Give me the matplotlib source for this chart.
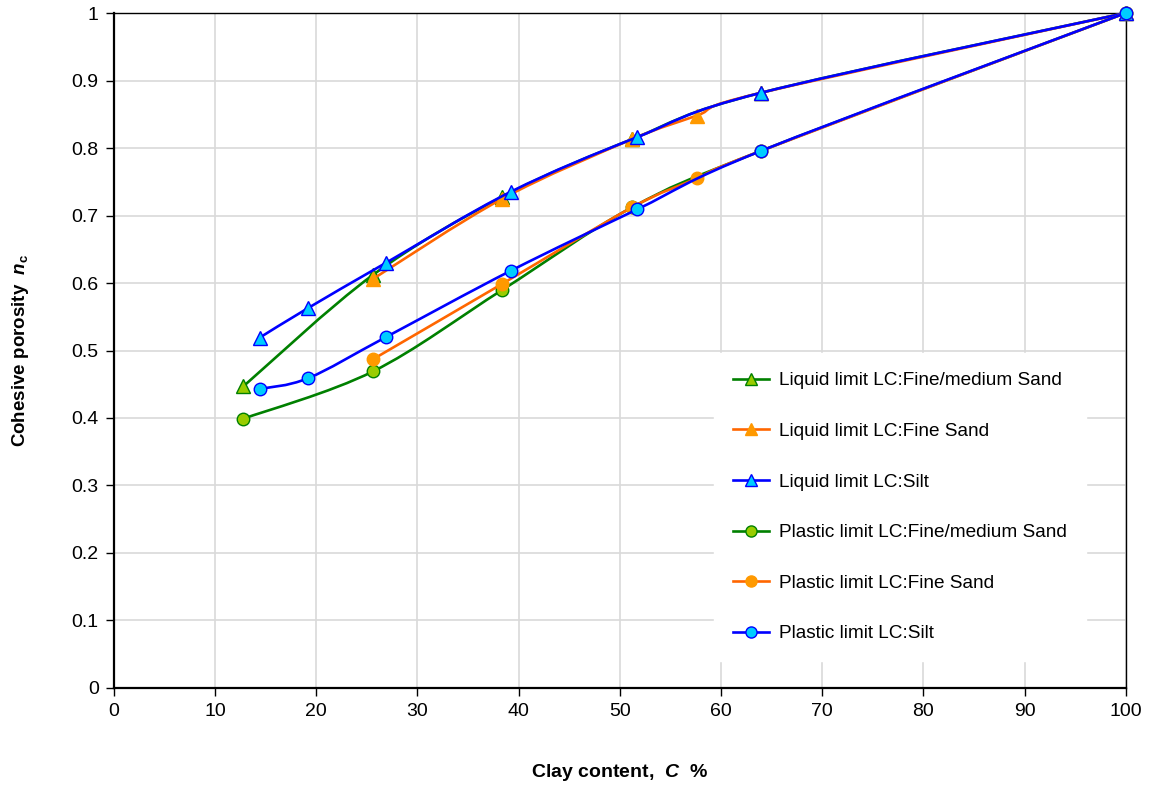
import numpy as np
import matplotlib
matplotlib.use('Agg')
import matplotlib.pyplot as plt
from matplotlib.path import Path
from matplotlib.patches import PathPatch
from matplotlib.lines import Line2D

plt.rcParams['font.family'] = ['Liberation Sans', 'DejaVu Sans']
plt.rcParams['mathtext.fontset'] = 'custom'
plt.rcParams['mathtext.it'] = 'Liberation Sans:italic:bold'
plt.rcParams['mathtext.rm'] = 'Liberation Sans:bold'
plt.rcParams['mathtext.bf'] = 'Liberation Sans:bold'

# clay content (%) and cohesive porosity for each series
ll_fm_x = [12.8, 25.6, 38.4, 51.2, 64.0, 100]
ll_fm_y = [0.447, 0.612, 0.728, 0.813, 0.882, 1.0]
ll_fs_x = [25.6, 38.4, 51.2, 57.6, 64.0, 100]
ll_fs_y = [0.606, 0.725, 0.813, 0.848, 0.882, 1.0]
ll_si_x = [14.4, 19.2, 26.9, 39.2, 51.7, 64.0, 100]
ll_si_y = [0.519, 0.563, 0.630, 0.735, 0.816, 0.882, 1.0]

pl_fm_x = [12.8, 25.6, 38.4, 51.2, 64.0, 100]
pl_fm_y = [0.399, 0.469, 0.590, 0.712, 0.796, 1.0]
pl_fs_x = [25.6, 38.4, 51.2, 57.6, 64.0, 100]
pl_fs_y = [0.487, 0.599, 0.712, 0.755, 0.796, 1.0]
pl_si_x = [14.4, 19.2, 26.9, 39.2, 51.7, 64.0, 100]
pl_si_y = [0.443, 0.459, 0.520, 0.618, 0.709, 0.796, 1.0]

labels = ['Liquid limit LC:Fine/medium Sand',
          'Liquid limit LC:Fine Sand',
          'Liquid limit LC:Silt',
          'Plastic limit LC:Fine/medium Sand',
          'Plastic limit LC:Fine Sand',
          'Plastic limit LC:Silt']

series = [(ll_fm_x, ll_fm_y), (ll_fs_x, ll_fs_y), (ll_si_x, ll_si_y),
          (pl_fm_x, pl_fm_y), (pl_fs_x, pl_fs_y), (pl_si_x, pl_si_y)]
line_colors = ['#008000', '#FF6600', '#0000FF'] * 2
face_colors = ['#99CC00', '#FF9900', '#00CCFF'] * 2
edge_colors = ['#008000', '#FF9900', '#0000FF'] * 2
markers = ['^'] * 3 + ['o'] * 3


def smooth_path(x, y):
    # spreadsheet-style smoothed line: cubic bezier through every point
    p = np.column_stack([x, y]).astype(float)
    n = len(p)
    verts = [p[0]]
    codes = [Path.MOVETO]
    for i in range(n - 1):
        p0 = p[i - 1] if i > 0 else p[i]
        p1, p2 = p[i], p[i + 1]
        p3 = p[i + 2] if i + 2 < n else p[i + 1]
        verts += [p1 + (p2 - p0) / 6, p2 - (p3 - p1) / 6, p2]
        codes += [Path.CURVE4] * 3
    return Path(verts, codes)


fig = plt.figure(figsize=(11.51, 7.85), dpi=100)
ax = fig.add_axes([0.099, 0.1236, 0.879, 0.8598])

handles = []
for k, ((x, y), lab, lc, fc, ec, m) in enumerate(zip(series, labels, line_colors,
                                                     face_colors, edge_colors, markers)):
    ms = 9.5 if m == '^' else 9
    ax.add_patch(PathPatch(smooth_path(x, y), fill=False, edgecolor=lc,
                           lw=1.9, zorder=3 + k, capstyle='round'))
    ax.plot(x, y, ls='none', marker=m, ms=ms, mfc=fc, mec=ec, mew=1.0,
            zorder=3 + k, clip_on=False)
    handles.append(Line2D([], [], color=lc, lw=1.9, marker=m, ms=ms - 1,
                          mfc=fc, mec=ec, mew=1.0, label=lab))

ax.set_xlim(0, 100)
ax.set_ylim(0, 1)
ax.set_xticks(np.arange(0, 101, 10))
ax.set_yticks(np.arange(0, 1.01, 0.1))
ax.set_yticklabels(['0'] + [f'{v:.1f}' for v in np.arange(0.1, 0.95, 0.1)] + ['1'])
ax.grid(True, color='#d9d9d9', lw=1.2)
ax.set_axisbelow(True)
ax.tick_params(direction='out', length=6, width=1, labelsize=14, colors='black', pad=5)
for side in ax.spines.values():
    side.set_color('black')
    side.set_linewidth(1.0)
    side.set_zorder(2.5)
ax.spines['left'].set_linewidth(1.6)
ax.spines['bottom'].set_linewidth(1.6)

ax.set_xlabel(r'Clay content,  $C$  %', fontsize=14, fontweight='bold', labelpad=30)
ax.set_ylabel(r'Cohesive porosity  $n_{\mathrm{c}}$', fontsize=13.5,
              fontweight='bold', labelpad=29)

leg = ax.legend(handles=handles, loc='upper left', bbox_to_anchor=(0.5935, 0.4963),
                borderaxespad=0, frameon=True, fontsize=13.7, labelspacing=1.75,
                handlelength=1.85, handletextpad=0.55, borderpad=1.0)
leg.get_frame().set_facecolor('white')
leg.get_frame().set_edgecolor('white')
leg.get_frame().set_alpha(1)
leg.get_frame().set_boxstyle('square', pad=0)
leg.set_zorder(20)

fig.savefig('out.png', dpi=100)
